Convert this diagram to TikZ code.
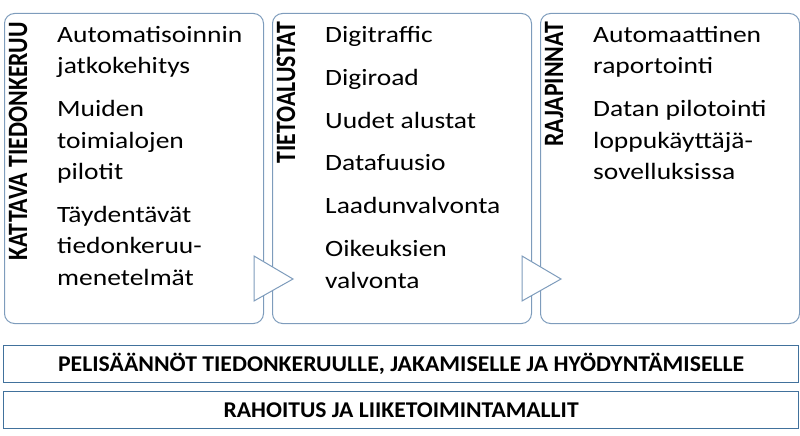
\documentclass[tikz,border=0pt]{standalone}
\usepackage{fontspec}
\setmainfont{Carlito}
\usepackage{graphicx}
\definecolor{boxline}{RGB}{126,156,188}
\definecolor{barline}{RGB}{65,113,156}
\newcommand{\firstline}{\rule{0pt}{0.75em}}

\begin{document}
\begin{tikzpicture}[x=1pt, y=-1pt,
  panel/.style={draw=boxline, line width=1pt, rounded corners=10pt, minimum width=259pt, minimum height=310pt, anchor=north west, inner sep=0pt},
  squeeze/.style={yscale=0.85, transform shape},
  heading/.style={squeeze, rotate=90, anchor=east, inner sep=0pt, text height=0.64em, text depth=0pt, font=\fontsize{28}{28}\selectfont\bfseries},
  items/.style={squeeze, anchor=north west, align=left, inner sep=0pt, font=\fontsize{27.5}{37}\selectfont},
  bar/.style={draw=barline, line width=1.2pt, minimum width=795pt, minimum height=37pt, anchor=north west, inner sep=0pt, font=\fontsize{26.5}{26.5}\selectfont\bfseries},
  flow/.style={draw=boxline, line width=1pt, fill=white}]
\useasboundingbox (0,0) rectangle (800,436);

\node[panel] (collect) at (4,13) {};
\node[panel] (platform) at (272,13) {};
\node[panel] (interface) at (540,13) {};

\node[heading] (collecthead) at (24,22) {KATTAVA TIEDONKERUU};
\node[heading] (platformhead) at (292,22) {TIETOALUSTAT};
\node[heading] (interfacehead) at (560,22) {RAJAPINNAT};

\node[items] (collectlist) at (57,24.5) {\firstline Automatisoinnin\\ jatkokehitys\\[13.5pt] Muiden\\ toimialojen\\ pilotit\\[13.5pt] Täydentävät\\ tiedonkeruu-\\ menetelmät};
\node[items] (platformlist) at (325,24.5) {\firstline Digitraffic\\[13.5pt] Digiroad\\[13.5pt] Uudet alustat\\[13.5pt] Datafuusio\\[13.5pt] Laadunvalvonta\\[13.5pt] Oikeuksien\\ valvonta};
\node[items] (interfacelist) at (593,24.5) {\firstline Automaattinen\\ raportointi\\[13.5pt] Datan pilotointi\\ loppukäyttäjä-\\ sovelluksissa};

% arrows between the panels
\draw[flow] (254,256) -- (293,279) -- (254,301) -- cycle;
\draw[flow] (522,256) -- (561,279) -- (522,301) -- cycle;

\node[bar] (rules) at (3,345) {\resizebox{686pt}{0.85\height}{PELISÄÄNNÖT TIEDONKERUULLE, JAKAMISELLE JA HYÖDYNTÄMISELLE}};
\node[bar] (funding) at (3,391) {\resizebox{355pt}{0.85\height}{RAHOITUS JA LIIKETOIMINTAMALLIT}};
\end{tikzpicture}
\end{document}
